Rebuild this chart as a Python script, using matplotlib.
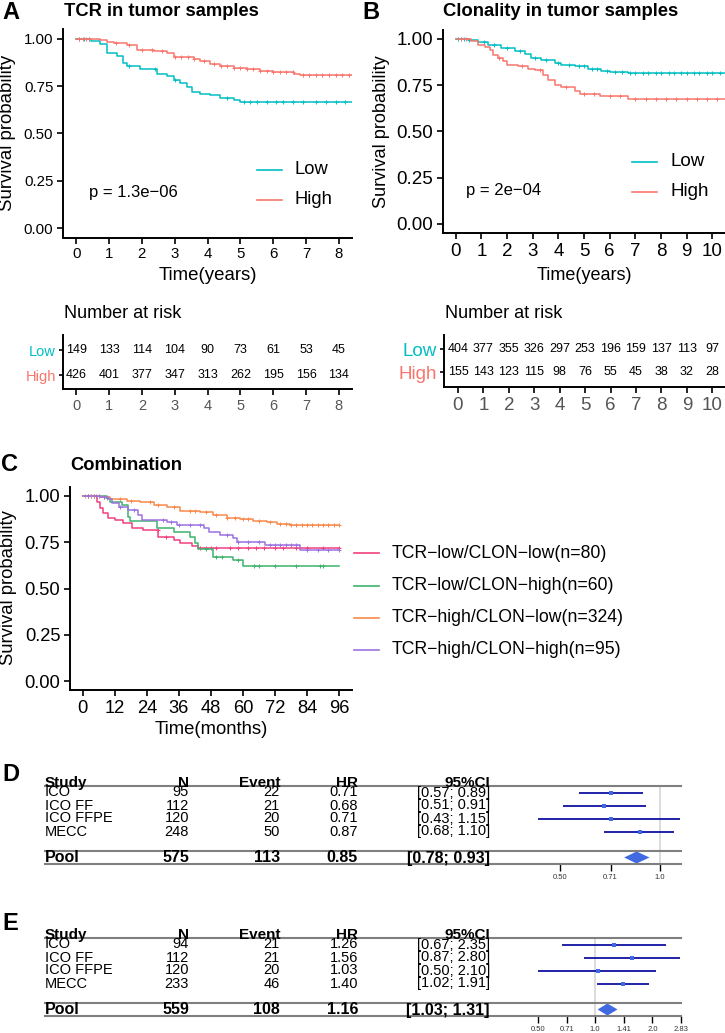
import numpy as np
import matplotlib
matplotlib.use("Agg")
import matplotlib.pyplot as plt
from matplotlib.lines import Line2D
from matplotlib.patches import Polygon

plt.rcParams['font.family'] = ['Liberation Sans', 'DejaVu Sans']

# ---------------- data ----------------
# A: TCR in tumor samples (years)
a_low_t = [0, 0.45, 0.73, 0.93, 1.24, 1.44, 1.54, 1.95, 2.46, 2.76, 2.97, 3.17, 3.37, 3.53, 3.78, 4.09, 4.39, 4.8, 5.0, 8.4]
a_low_s = [1.0, 0.99, 0.975, 0.925, 0.91, 0.875, 0.855, 0.84, 0.817, 0.806, 0.785, 0.767, 0.746, 0.718, 0.709, 0.705, 0.688, 0.679, 0.668, 0.668]
a_low_c = [0.1, 0.25, 0.4, 1.6, 2.4, 3.0, 4.6, 5.1, 5.3, 5.5, 5.8, 6.1, 6.3, 6.6, 6.9, 7.3, 7.6, 7.9, 8.2]
a_high_t = [0, 0.5, 0.73, 0.93, 1.14, 1.54, 1.85, 2.36, 2.76, 2.97, 3.58, 3.78, 4.09, 4.39, 4.8, 5.2, 5.6, 6.0, 6.63, 6.83, 8.4]
a_high_s = [1.0, 0.998, 0.993, 0.985, 0.977, 0.968, 0.944, 0.935, 0.926, 0.905, 0.894, 0.882, 0.87, 0.859, 0.847, 0.841, 0.831, 0.824, 0.817, 0.81, 0.81]
a_high_c = [0.1, 0.2, 0.3, 0.4, 1.2, 1.6, 2.0, 2.3, 2.6, 3.0, 3.2, 3.4, 3.6, 3.9, 4.2, 4.4, 4.6, 4.8, 5.0,
            5.2, 5.4, 5.6, 5.8, 6.0, 6.2, 6.4, 6.6, 6.9, 7.1, 7.3, 7.5, 7.7, 7.9, 8.1, 8.3]
a_years = list(range(0, 9))
a_risk_low = [149, 133, 114, 104, 90, 73, 61, 53, 45]
a_risk_high = [426, 401, 377, 347, 313, 262, 195, 156, 134]

# B: clonality in tumor samples (years)
b_low_t = [0, 0.5, 0.87, 1.26, 1.78, 2.3, 2.69, 2.95, 3.34, 3.86, 4.12, 4.64, 5.16, 5.68, 6.0, 6.72, 10.5]
b_low_s = [1.0, 0.995, 0.982, 0.969, 0.951, 0.933, 0.919, 0.897, 0.885, 0.87, 0.859, 0.852, 0.84, 0.829, 0.82, 0.816, 0.816]
b_low_c = [0.1, 0.2, 0.3, 0.5, 1.1, 1.5, 2.0, 2.5, 3.1, 3.5, 4.0, 4.4, 4.8, 5.0, 5.3, 5.5, 5.9, 6.2, 6.5,
           6.8, 7.0, 7.3, 7.5, 7.8, 8.0, 8.3, 8.5, 8.8, 9.0, 9.3, 9.5, 9.8, 10.0, 10.3]
b_high_t = [0, 0.61, 0.87, 1.13, 1.33, 1.46, 1.65, 1.85, 1.98, 2.43, 2.82, 3.08, 3.41, 3.6, 3.86, 4.12, 4.64, 4.84, 5.62, 6.72, 10.5]
b_high_s = [1.0, 0.99, 0.969, 0.955, 0.942, 0.915, 0.897, 0.879, 0.861, 0.852, 0.84, 0.831, 0.807, 0.78, 0.753, 0.739, 0.717, 0.703, 0.69, 0.677, 0.677]
b_high_c = [0.2, 0.4, 1.7, 2.6, 3.3, 4.3, 5.0, 5.4, 6.0, 6.4, 7.0, 7.4, 7.8, 8.2, 8.6, 9.0, 9.4, 9.8, 10.2]
b_years = list(range(0, 11))
b_risk_low = [404, 377, 355, 326, 297, 253, 196, 159, 137, 113, 97]
b_risk_high = [155, 143, 123, 115, 98, 76, 55, 45, 38, 32, 28]

# C: combination (months)
c_labels = ["TCR\u2212low/CLON\u2212low(n=80)", "TCR\u2212low/CLON\u2212high(n=60)",
            "TCR\u2212high/CLON\u2212low(n=324)", "TCR\u2212high/CLON\u2212high(n=95)"]
c_colors = ["#F0407E", "#3DB36B", "#F88A4C", "#9C73E0"]
c_ll_t = [0, 5.2, 6.5, 7.7, 9.6, 12.1, 15.2, 18.4, 22.7, 28.3, 34.0, 36.5, 40.8, 43.3, 52.7, 96]
c_ll_s = [1.0, 0.969, 0.933, 0.906, 0.883, 0.87, 0.852, 0.825, 0.816, 0.78, 0.762, 0.744, 0.732, 0.721, 0.72, 0.72]
c_ll_c = [2, 4, 28, 31, 44, 46, 48, 50, 55, 58, 62, 65, 68, 72, 75, 80, 84, 90, 96]
c_lh_t = [0, 9.0, 10.2, 14.6, 17.1, 17.7, 27.7, 34.0, 40.2, 42.1, 43.3, 48.9, 56.4, 60.0, 96]
c_lh_s = [1.0, 0.987, 0.969, 0.951, 0.888, 0.865, 0.829, 0.807, 0.78, 0.744, 0.714, 0.672, 0.654, 0.623, 0.623]
c_lh_c = [3, 6, 9, 46, 50, 52, 58, 64, 66, 72, 80, 89, 90]
c_hl_t = [0, 6.5, 10.2, 16.5, 21.5, 26.5, 31.5, 36.5, 44.0, 48.9, 53.9, 58.9, 63.9, 68.9, 72.7, 77.7, 96]
c_hl_s = [1.0, 0.993, 0.985, 0.975, 0.969, 0.951, 0.942, 0.921, 0.915, 0.897, 0.883, 0.876, 0.867, 0.858, 0.849, 0.841, 0.841]
c_hl_c = [1, 2, 3, 4, 6, 8, 14, 18, 25, 28, 34, 40, 42, 46, 50, 54, 57, 60, 62, 66, 70, 74, 76, 78,
          80, 82, 84, 86, 88, 90, 92, 94, 96]
c_hh_t = [0, 6.5, 9.6, 10.9, 13.4, 17.1, 20.8, 22.1, 31.5, 35.2, 45.2, 47.1, 51.4, 56.4, 57.7, 68.3, 81.4, 96]
c_hh_s = [1.0, 0.993, 0.982, 0.96, 0.942, 0.924, 0.897, 0.87, 0.861, 0.843, 0.825, 0.807, 0.789, 0.771, 0.753, 0.735, 0.708, 0.708]
c_hh_c = [2, 5, 8, 14, 19, 30, 33, 36, 40, 44, 54, 58, 62, 66, 70, 72, 74, 76, 78, 80, 84, 88, 92, 96]
c_months = list(range(0, 97, 12))

# D / E: forest tables
studies = ["ICO", "ICO FF", "ICO FFPE", "MECC"]
d_n = [95, 112, 120, 248]
d_event = [22, 21, 20, 50]
d_hr = [0.71, 0.68, 0.71, 0.87]
d_lo = [0.57, 0.51, 0.43, 0.68]
d_hi = [0.89, 0.91, 1.15, 1.10]
d_pool = (575, 113, 0.85, 0.78, 0.93)
e_n = [94, 112, 120, 233]
e_event = [21, 21, 20, 46]
e_hr = [1.26, 1.56, 1.03, 1.40]
e_lo = [0.67, 0.87, 0.50, 1.02]
e_hi = [2.35, 2.80, 2.10, 1.91]
e_pool = (559, 108, 1.16, 1.03, 1.31)

CYAN = "#00BFC4"
SALMON = "#F8766D"

# ---------------- helpers (pixel layout) ----------------
W, H = 725, 1033
fig = plt.figure(figsize=(W / 100, H / 100), dpi=100)


def ax_px(x0, y0, x1, y1):
    return fig.add_axes([x0 / W, 1 - y1 / H, (x1 - x0) / W, (y1 - y0) / H])


def ftext(x, y, s, **kw):
    return fig.text(x / W, 1 - y / H, s, **kw)


def fline(x0, y0, x1, y1, **kw):
    fig.add_artist(Line2D([x0 / W, x1 / W], [1 - y0 / H, 1 - y1 / H], transform=fig.transFigure, **kw))


def km(ax, t, s, cens, color):
    t = np.asarray(t)
    s = np.asarray(s)
    ax.step(t, s, where='post', color=color, lw=1.1)
    idx = np.searchsorted(t, cens, side='right') - 1
    ax.plot(cens, s[idx], '+', color=color, ms=3.5, mew=0.7, clip_on=False)


def style_km(ax, xlim, xticks, fs):
    ax.set_xlim(*xlim)
    ax.set_ylim(-0.05, 1.05)
    ax.set_xticks(xticks)
    ax.set_yticks([0, 0.25, 0.5, 0.75, 1.0])
    ax.set_yticklabels(["0.00", "0.25", "0.50", "0.75", "1.00"])
    for sp in ['top', 'right']:
        ax.spines[sp].set_visible(False)
    for sp in ['left', 'bottom']:
        ax.spines[sp].set_linewidth(1.4)
    ax.tick_params(length=4, width=1.2, labelsize=fs, colors='black', pad=3)


def legend_px(x0, ys, labels, colors, fs, gap=13, length=25):
    for y, lab, col in zip(ys, labels, colors):
        fline(x0, y, x0 + length, y, color=col, lw=1.2)
        ftext(x0 + length + gap, y, lab, fontsize=fs, va='center', ha='left')


def risk_table(ax, xlim, xticks, low, high, lab_fs, num_fs, tick_fs, ylim):
    ax.set_xlim(*xlim)
    ax.set_ylim(*ylim)
    for x, lo, hi in zip(xticks, low, high):
        ax.text(x, 1, str(lo), ha='center', va='center', fontsize=num_fs)
        ax.text(x, 0, str(hi), ha='center', va='center', fontsize=num_fs)
    ax.set_xticks(xticks)
    ax.set_yticks([1, 0])
    ax.set_yticklabels(["Low", "High"], fontsize=lab_fs)
    ax.get_yticklabels()[0].set_color(CYAN)
    ax.get_yticklabels()[1].set_color(SALMON)
    for sp in ['top', 'right']:
        ax.spines[sp].set_visible(False)
    for sp in ['left', 'bottom']:
        ax.spines[sp].set_linewidth(1.4)
    ax.tick_params(axis='x', length=4, width=1.2, labelsize=tick_fs, labelcolor='#555555', pad=3)
    ax.tick_params(axis='y', length=3, width=1.2, pad=2)


# ---------------- panel A ----------------
ftext(2, 1, "A", fontsize=17, fontweight='bold', va='top')
ftext(64, 12, "TCR in tumor samples", fontsize=13.2, fontweight='bold', va='center')
axA = ax_px(63, 29.5, 352, 237.5)
km(axA, a_low_t, a_low_s, a_low_c, CYAN)
km(axA, a_high_t, a_high_s, a_high_c, SALMON)
style_km(axA, (-0.4, 8.4), a_years, 10.8)
ftext(89, 193, "p = 1.3e\u221206", fontsize=12, va='center')
legend_px(257, [170, 200], ["Low", "High"], [CYAN, SALMON], 13.2)
ftext(8, 133, "Survival probability", fontsize=13.4, rotation=90, ha='center', va='center')
ftext(208, 275, "Time(years)", fontsize=13.4, ha='center', va='center')

ftext(64, 313, "Number at risk", fontsize=13, va='center')
axAr = ax_px(63, 335, 352, 389)
risk_table(axAr, (-0.4, 8.4), a_years, a_risk_low, a_risk_high, 10.5, 9, 10.5, (-0.56, 1.6))

# ---------------- panel B ----------------
ftext(362, 1, "B", fontsize=17, fontweight='bold', va='top')
ftext(443, 12, "Clonality in tumor samples", fontsize=13.3, fontweight='bold', va='center')
axB = ax_px(443, 29.75, 725, 233)
km(axB, b_low_t, b_low_s, b_low_c, CYAN)
km(axB, b_high_t, b_high_s, b_high_c, SALMON)
style_km(axB, (-0.5, 10.5), b_years, 13.5)
ftext(466, 190, "p = 2e\u221204", fontsize=12, va='center')
legend_px(632, [162, 192], ["Low", "High"], [CYAN, SALMON], 13.5)
ftext(381, 132, "Survival probability", fontsize=13.1, rotation=90, ha='center', va='center')
ftext(584, 275, "Time(years)", fontsize=13, ha='center', va='center')

ftext(445, 313, "Number at risk", fontsize=13, va='center')
axBr = ax_px(444, 335, 725, 387)
risk_table(axBr, (-0.55, 10.5), b_years, b_risk_low, b_risk_high, 13.5, 9, 13.5, (-0.65, 1.61))

# ---------------- panel C ----------------
ftext(1, 453, "C", fontsize=17, fontweight='bold', va='top')
ftext(70, 466, "Combination", fontsize=13.2, fontweight='bold', va='center')
axC = ax_px(70, 486.75, 352, 690.25)
c_curves = [(c_ll_t, c_ll_s, c_ll_c), (c_lh_t, c_lh_s, c_lh_c),
            (c_hl_t, c_hl_s, c_hl_c), (c_hh_t, c_hh_s, c_hh_c)]
for (t, s, c), col in zip(c_curves, c_colors):
    km(axC, t, s, c, col)
style_km(axC, (-4.8, 100.8), c_months, 13.2)
legend_px(354, [553, 586, 618, 650], c_labels, c_colors, 12.7)
ftext(9, 588, "Survival probability", fontsize=13.3, rotation=90, ha='center', va='center')
ftext(211, 730, "Time(months)", fontsize=13.3, ha='center', va='center')


# ---------------- panels D / E ----------------
def forest(letter, letter_y, top_y, pool_line_y, bottom_y, n, ev, hr, lo, hi, pool,
           xlim, ticks, ticklabels, bounds):
    ftext(2, letter_y, letter, fontsize=17, fontweight='bold', va='top')
    fs = 10.5
    cols = [(45, 'left'), (189, 'right'), (280, 'right'), (358, 'right'), (490, 'right')]
    header = ["Study", "N", "Event", "HR", "95%CI"]
    for (x, ha), h in zip(cols, header):
        ftext(x, top_y + 1, h, fontsize=fs + 0.5, fontweight='bold', ha=ha, va='baseline')
    row_y = [top_y + 6.5 + 13 * i for i in range(len(studies))]
    for y, st, a, b, c, l, u in zip(row_y, studies, n, ev, hr, lo, hi):
        vals = [st, str(a), str(b), f"{c:.2f}", f"[{l:.2f}; {u:.2f}]"]
        for (x, ha), v in zip(cols, vals):
            ftext(x, y, v, fontsize=fs, ha=ha, va='center')
    pool_y = (pool_line_y + bottom_y) / 2
    pvals = ["Pool", str(pool[0]), str(pool[1]), f"{pool[2]:.2f}", f"[{pool[3]:.2f}; {pool[4]:.2f}]"]
    for (x, ha), v in zip(cols, pvals):
        ftext(x, pool_y + 0.5, v, fontsize=fs + 1, fontweight='bold', ha=ha, va='center')
    for y in (top_y, pool_line_y, bottom_y):
        fline(45, y, 681, y, color='#7f7f7f', lw=1.5)

    ax = ax_px(538, top_y, 681, bottom_y)
    ax.set_xscale('log', base=2)
    ax.set_xlim(*xlim)
    ax.set_ylim(bottom_y, top_y)
    ax.patch.set_alpha(0)
    ax.axvline(1.0, color='#d9d9d9', lw=1.3, zorder=0)
    ax.hlines(row_y, lo, hi, color='#1010a0', lw=1.3)
    ax.plot(hr, row_y, 's', color='#4169E1', ms=2.5, mew=0)
    p_hr, p_lo, p_hi = pool[2], pool[3], pool[4]
    ax.add_patch(Polygon([(p_lo, pool_y), (p_hr, pool_y - 6), (p_hi, pool_y), (p_hr, pool_y + 6)],
                         closed=True, color='#4169E1', lw=0))
    for sp in ['top', 'right', 'left']:
        ax.spines[sp].set_visible(False)
    ax.spines['bottom'].set_bounds(*bounds)
    ax.spines['bottom'].set_linewidth(1.2)
    ax.set_yticks([])
    ax.set_xticks(ticks)
    ax.set_xticklabels(ticklabels)
    ax.minorticks_off()
    ax.tick_params(axis='x', length=5, width=1.0, labelsize=5.5, labelcolor='#333333', pad=2.5)


forest("D", 763, 786, 851, 864, d_n, d_event, d_hr, d_lo, d_hi, d_pool,
       (0.429, 1.157), [0.5, 0.71, 1.0], ["0.50", "0.71", "1.0"], (0.5, 1.0))
forest("E", 912, 938, 1003, 1016, e_n, e_event, e_hr, e_lo, e_hi, e_pool,
       (0.5, 2.83), [0.5, 0.71, 1.0, 1.41, 2.0, 2.83], ["0.50", "0.71", "1.0", "1.41", "2.0", "2.83"],
       (0.5, 2.83))

fig.savefig("out.png", dpi=100)
